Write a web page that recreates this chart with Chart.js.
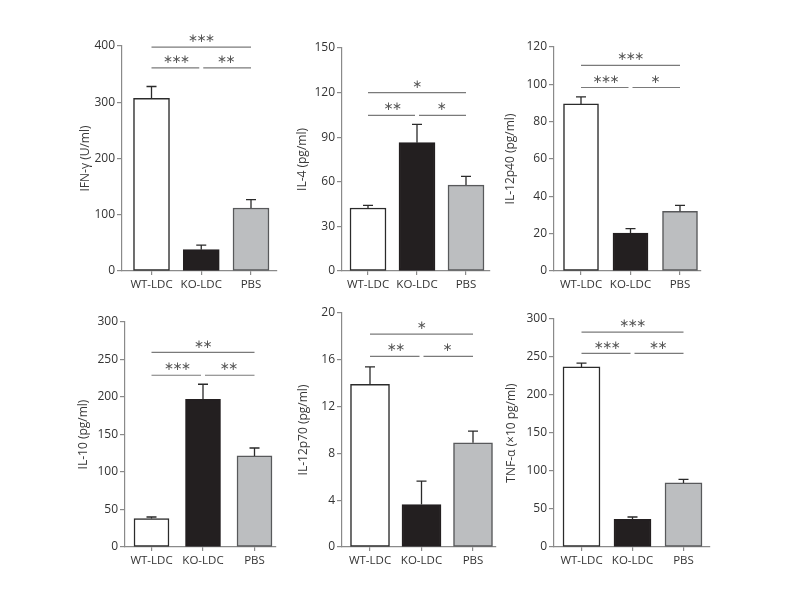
<!DOCTYPE html>
<html>
<head>
<meta charset="utf-8">
<script src="https://cdn.jsdelivr.net/npm/chart.js@4.4.0/dist/chart.umd.min.js"></script>
<style>
  html, body { margin: 0; padding: 0; background: #fff; }
  #page { position: relative; width: 787px; height: 601px; overflow: hidden; background: #fff; }
  #page canvas { position: absolute; }
</style>
</head>
<body>
<div id="page"></div>
<script>
// x axis groups
var groups = ['WT-LDC', 'KO-LDC', 'PBS'];

// bar heights and upper error (SEM) per cytokine
var ifnMean = [307, 38, 112];
var ifnErr = [21, 8, 15];
var il4Mean = [42.4, 86.3, 57.8];
var il4Err = [1.8, 12.3, 5.8];
var il12p40Mean = [89.5, 20.3, 32];
var il12p40Err = [3.8, 2.4, 3.2];
var il10Mean = [38, 197, 121.5];
var il10Err = [2, 20, 10.5];
var il12p70Mean = [13.9, 3.63, 8.9];
var il12p70Err = [1.5, 2.0, 1.0];
var tnfMean = [237, 36.5, 84.3];
var tnfErr = [5, 3, 4.7];

// y axes
var yTitles = ['IFN-\u03b3 (U/ml)', 'IL-4 (pg/ml)', 'IL-12p40 (pg/ml)', 'IL-10 (pg/ml)', 'IL-12p70 (pg/ml)', 'TNF-\u03b1 (\u00d710 pg/ml)'];
var yMaxes = [400, 150, 120, 300, 20, 300];
var ySteps = [100, 30, 20, 50, 4, 50];

// significance brackets: [upper line, lower lines] in data units, stars [WT-PBS, WT-KO, KO-PBS]
var ifnSig = [398, 361];
var ifnStars = ['***', '***', '**'];
var il4Sig = [120, 104.7];
var il4Stars = ['*', '**', '*'];
var il12p40Sig = [110.2, 98.3];
var il12p40Stars = ['***', '***', '*'];
var il10Sig = [259.5, 229];
var il10Stars = ['**', '***', '**'];
var il12p70Sig = [18.2, 16.3];
var il12p70Stars = ['*', '**', '*'];
var tnfSig = [282.6, 254.7];
var tnfStars = ['***', '***', '**'];

// where each panel sits on the page (pixels)
var layout = [
    { axisX: 122, titleX: 85, top: 46, bottom: 271, c1: 151.5, sp: 49.75, endX: 277, bw: 36 },
    { axisX: 342, titleX: 302, top: 48, bottom: 271, c1: 368, sp: 49, endX: 490, bw: 36 },
    { axisX: 554, titleX: 510, top: 47, bottom: 271, c1: 581, sp: 49.5, endX: 701, bw: 35 },
    { axisX: 125, titleX: 83, top: 322, bottom: 547, c1: 151.5, sp: 51.5, endX: 276, bw: 35 },
    { axisX: 342, titleX: 303, top: 313, bottom: 547, c1: 370, sp: 51.5, endX: 496, bw: 39 },
    { axisX: 554, titleX: 511, top: 319, bottom: 547, c1: 581.5, sp: 51, endX: 710, bw: 37 }
];

var PAD_TOP = 12, XH = 31, PAD_R = 8, TITLE_OFF = 11.2;
var AXIS_COL = '#8a8a8a';

Chart.defaults.font.family = "'Open Sans', 'DejaVu Sans', sans-serif";
Chart.defaults.font.size = 12;
Chart.defaults.color = '#333';

var errorBars = {
    id: 'errorBars',
    afterDatasetsDraw: function (chart) {
        var ctx = chart.ctx;
        var ys = chart.scales.y;
        var ds = chart.data.datasets[0];
        var meta = chart.getDatasetMeta(0);
        ctx.save();
        ctx.strokeStyle = '#2a2a2a';
        ctx.lineWidth = 1.3;
        meta.data.forEach(function (bar, i) {
            var yTop = ys.getPixelForValue(ds.data[i].y + ds.errors[i]);
            ctx.beginPath();
            ctx.moveTo(bar.x, bar.y);
            ctx.lineTo(bar.x, yTop);
            ctx.moveTo(bar.x - 5, yTop);
            ctx.lineTo(bar.x + 5, yTop);
            ctx.stroke();
        });
        ctx.restore();
    }
};

function brackets(levels, stars) {
    return {
        id: 'brackets',
        afterDraw: function (chart) {
            var ctx = chart.ctx, xs = chart.scales.x, ys = chart.scales.y;
            var x1 = xs.getPixelForValue(1), x2 = xs.getPixelForValue(2), x3 = xs.getPixelForValue(3);
            var yUp = ys.getPixelForValue(levels[0]);
            var yLo = ys.getPixelForValue(levels[1]);
            ctx.save();
            ctx.strokeStyle = '#7a7a7a';
            ctx.lineWidth = 1.2;
            function seg(a, b, y) {
                ctx.beginPath();
                ctx.moveTo(a, y);
                ctx.lineTo(b, y);
                ctx.stroke();
            }
            seg(x1, x3, yUp);
            seg(x1, x2 - 2, yLo);
            seg(x2 + 2, x3, yLo);
            ctx.fillStyle = '#555';
            ctx.font = "12px 'DejaVu Sans'";
            ctx.textAlign = 'center';
            ctx.textBaseline = 'middle';
            function starRow(s, cx, y) {
                for (var i = 0; i < s.length; i++) {
                    ctx.fillText('\u2217', cx + (i - (s.length - 1) / 2) * 8.5, y);
                }
            }
            starRow(stars[0], (x1 + x3) / 2, yUp - 8);
            starRow(stars[1], (x1 + x2) / 2, yLo - 8);
            starRow(stars[2], (x2 + x3) / 2, yLo - 8);
            ctx.restore();
        }
    };
}

function makePanel(k, mean, err, sig, stars) {
    var p = layout[k];
    var left = Math.round(p.titleX - TITLE_OFF);
    var yw = p.axisX - left;
    var cv = document.createElement('canvas');
    cv.width = Math.round(yw + (p.endX - p.axisX) + PAD_R);
    cv.height = PAD_TOP + (p.bottom - p.top) + XH;
    cv.style.left = left + 'px';
    cv.style.top = (p.top - PAD_TOP) + 'px';
    document.getElementById('page').appendChild(cv);

    var c3 = p.c1 + 2 * p.sp;
    var xmin = 1 - (p.c1 - p.axisX) / p.sp;
    var xmax = 3 + (p.endX - c3) / p.sp;

    new Chart(cv, {
        type: 'bar',
        data: {
            datasets: [{
                data: mean.map(function (v, i) { return { x: i + 1, y: v }; }),
                errors: err,
                backgroundColor: ['#ffffff', '#231f20', '#bcbec0'],
                borderColor: ['#2b2b2b', '#231f20', '#58595b'],
                borderWidth: 1.5,
                borderSkipped: false,
                barThickness: p.bw
            }]
        },
        options: {
            responsive: false,
            animation: false,
            layout: { padding: { top: PAD_TOP, right: PAD_R, left: 0, bottom: 0 } },
            plugins: { legend: { display: false }, tooltip: { enabled: false } },
            scales: {
                x: {
                    type: 'linear',
                    min: xmin,
                    max: xmax,
                    offset: false,
                    afterBuildTicks: function (scale) {
                        scale.ticks = groups.map(function (g, i) { return { value: i + 1 }; });
                    },
                    afterFit: function (scale) { scale.height = XH; },
                    ticks: {
                        autoSkip: false,
                        maxRotation: 0,
                        padding: 3,
                        font: { size: 11.5 },
                        callback: function (v, i) { return groups[i]; }
                    },
                    grid: { offset: false, drawOnChartArea: false, tickLength: 4, color: AXIS_COL, lineWidth: 1.2 },
                    border: { color: AXIS_COL, width: 1.2 }
                },
                y: {
                    min: 0,
                    max: yMaxes[k],
                    afterFit: function (scale) { scale.width = yw; },
                    ticks: { stepSize: ySteps[k], padding: 2 },
                    grid: { drawOnChartArea: false, tickLength: 5, color: AXIS_COL, lineWidth: 1.2 },
                    border: { color: AXIS_COL, width: 1.2 },
                    title: { display: true, text: yTitles[k], color: '#3a3a3a', font: { size: 12 } }
                }
            }
        },
        plugins: [errorBars, brackets(sig, stars)]
    });
}

makePanel(0, ifnMean, ifnErr, ifnSig, ifnStars);
makePanel(1, il4Mean, il4Err, il4Sig, il4Stars);
makePanel(2, il12p40Mean, il12p40Err, il12p40Sig, il12p40Stars);
makePanel(3, il10Mean, il10Err, il10Sig, il10Stars);
makePanel(4, il12p70Mean, il12p70Err, il12p70Sig, il12p70Stars);
makePanel(5, tnfMean, tnfErr, tnfSig, tnfStars);
</script>
</body>
</html>
